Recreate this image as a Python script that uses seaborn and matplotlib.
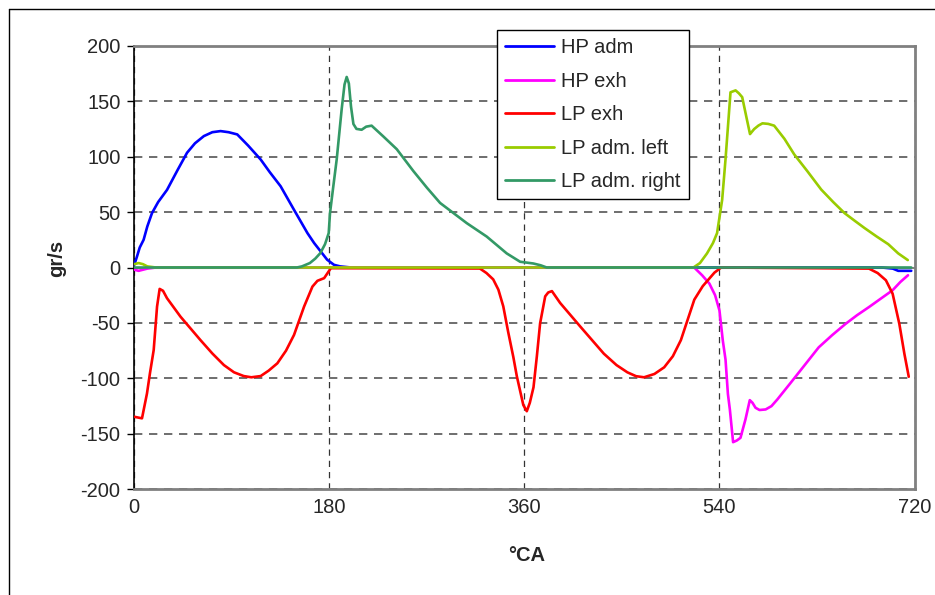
import numpy as np
import pandas as pd
import seaborn as sns
import matplotlib.pyplot as plt
from matplotlib.lines import Line2D

# crank angle (deg) / mass flow (gr/s)
hp_adm_x = [0, 2.5, 5, 8.6, 12, 16.3, 22, 30.2, 40, 48.7, 56, 64.2, 72, 79.6, 87, 95, 105, 116.6, 125, 135, 147.4,
            159.8, 166, 172, 178, 184.3, 190, 200, 690, 700, 705, 717]
hp_adm_y = [2.4, 10, 18, 25, 37, 49, 59, 70, 88, 103.5, 112, 118.5, 122, 123, 122, 120, 110, 97.4, 86, 73.3, 52,
            31, 22, 14.5, 7, 2.4, 1, 0, 0, -1, -3, -3]

hp_exh_x = [0, 4, 8, 12, 20, 510, 516.7, 524, 530.7, 536, 540, 543.1, 545.6, 547.8, 549.6, 552.6, 556, 559.4, 564,
            568, 570.5, 573.3, 577, 582.6, 588, 593.4, 605.7, 622.7, 631.6, 644, 656.4, 667, 678.1, 689, 699.8,
            707, 714]
hp_exh_y = [-2, -3, -2, -1, 0, 0, 0, -7, -14.5, -25, -38.7, -65.9, -83, -114, -128, -157.5, -156, -153.6, -137,
            -119.6, -122, -126.5, -128.5, -128, -125, -119, -104, -83, -72, -61, -50.8, -43, -35.6, -28, -20.5,
            -13, -7]

lp_exh_x = [0, 7.1, 11.7, 14.5, 17.9, 21, 23.4, 26.5, 30.2, 42.6, 61, 72, 82.7, 92, 101, 108, 116.6, 124, 132,
            140, 147.4, 156.7, 164.4, 169, 175.2, 181.4, 318.9, 325, 331.2, 336, 340.5, 345, 349.8, 353, 356, 359,
            362.2, 365, 368.4, 371.5, 374.5, 379.2, 382, 385.4, 393, 411.7, 433.3, 445, 455, 463, 470.4, 480, 489,
            497, 504.4, 516.8, 524.6, 535.4, 541.6, 678, 686, 693.6, 699.8, 706, 710.7, 714.7]
lp_exh_y = [-134.6, -136, -113.6, -95, -74.4, -35.2, -19.3, -21, -27.7, -44.3, -65.4, -77.5, -88, -94.5, -97.9,
            -99, -97.9, -93, -86.4, -75, -60.8, -35.2, -17.2, -12, -9.6, -0.6, -0.9, -5, -10.7, -20, -35, -58,
            -80.8, -98, -111, -124, -129.6, -122, -108, -80, -50.3, -26, -22.5, -21.3, -32, -53.4, -77.7, -88,
            -94.5, -98, -99, -96, -90, -80, -65.5, -29, -16.8, -4.6, 0, -1, -5, -11.5, -23.6, -50.8, -78, -98.5]

lp_adm_left_x = [0, 4, 8, 12, 20, 510, 516, 522, 528.5, 534, 537.8, 542.5, 545.6, 550.2, 554.9, 558, 561, 565,
                 568.2, 572, 576, 579.7, 585, 590.5, 600, 609, 621, 633.9, 645, 655.5, 665, 674, 685, 695.8, 705,
                 713.8]
lp_adm_left_y = [3, 4, 3, 1, 0, 0, 0, 4, 12.7, 22, 31, 61, 97.6, 158, 159.7, 157, 153.6, 135, 120.3, 124.8, 128,
                 130, 129.5, 127.9, 116, 102, 87, 70.3, 59, 49, 42, 35.5, 28, 21, 12.7, 6.7]

lp_adm_right_x = [0, 150, 154.7, 162, 167, 171.7, 176, 179.4, 180.6, 183.5, 186.8, 191.4, 194, 196, 198, 200,
                  202.2, 205, 209.8, 214, 219, 230, 242.2, 257.5, 270, 282.2, 306.8, 325.2, 343.7, 356, 368.3, 375,
                  380.6, 717]
lp_adm_right_y = [0, 0, 1, 4, 8, 13, 21, 31, 49, 72, 97.6, 143, 165, 171.8, 166, 145, 129.4, 125, 124.2, 127,
                  127.9, 118, 106.7, 87, 72, 58.2, 40, 27.9, 12.7, 5.2, 3.6, 2, 0, 0]

series = [
    ("HP adm", hp_adm_x, hp_adm_y, "#0000FF"),
    ("HP exh", hp_exh_x, hp_exh_y, "#FF00FF"),
    ("LP exh", lp_exh_x, lp_exh_y, "#FF0000"),
    ("LP adm. left", lp_adm_left_x, lp_adm_left_y, "#99CC00"),
    ("LP adm. right", lp_adm_right_x, lp_adm_right_y, "#339966"),
]

sns.set_style("white")
plt.rcParams['font.family'] = ['Liberation Sans', 'DejaVu Sans']
plt.rcParams['axes.unicode_minus'] = False

W, H = 935, 595
fs = 14.5
fig = plt.figure(figsize=(W / 100, H / 100), dpi=100)
left, right, top, bottom = 134.3, 914.5, 45.7, 489.3
ax = fig.add_axes([left / W, 1 - bottom / H, (right - left) / W, (bottom - top) / H])

for name, xs, ys, color in series:
    df = pd.DataFrame({"deg": xs, "flow": ys})
    sns.lineplot(data=df, x="deg", y="flow", color=color, linewidth=1.9, label=name, ax=ax, zorder=3)

ax.set_xlim(0, 720)
ax.set_ylim(-200, 200)
ax.set_xticks(np.arange(0, 721, 180))
ax.set_yticks(np.arange(-200, 201, 50))
ax.tick_params(axis='y', direction='out', length=5, width=1, color='black', labelsize=fs, pad=5, left=True)
ax.tick_params(axis='x', length=0, labelsize=fs, pad=6)

ax.yaxis.grid(True, linestyle=(0, (5, 4)), color='#555555', linewidth=1.2)
ax.xaxis.grid(True, linestyle=(0, (5, 4)), color='#333333', linewidth=0.9)
ax.axhline(0, color='#808080', linewidth=1.5, zorder=2)

for s in ['top', 'right', 'bottom']:
    ax.spines[s].set_color('#808080')
    ax.spines[s].set_linewidth(2)
ax.spines['left'].set_color('black')
ax.spines['left'].set_linewidth(1.2)

ax.set_ylabel('gr/s', fontsize=fs, fontweight='bold')
ax.yaxis.set_label_coords(-0.088, 0.52)
ax.set_xlabel('°CA', fontsize=fs, fontweight='bold')
ax.xaxis.set_label_coords(0.503, -0.128)

leg = ax.legend(loc='upper left', bbox_to_anchor=(497 / W, 1 - 30 / H), bbox_transform=fig.transFigure,
                frameon=True, fancybox=False, edgecolor='black', framealpha=1, fontsize=fs,
                handlelength=2.45, handletextpad=0.35, labelspacing=0.72, borderpad=0.4, borderaxespad=0)
leg.get_frame().set_linewidth(1.0)
for h in leg.get_lines():
    h.set_linewidth(2)

# outer chart frame
fig.add_artist(Line2D([9 / W, 1], [1 - 9 / H, 1 - 9 / H], transform=fig.transFigure, color='black', lw=1))
fig.add_artist(Line2D([9 / W, 9 / W], [0, 1 - 9 / H], transform=fig.transFigure, color='black', lw=1))

fig.savefig('out.png', dpi=100)
